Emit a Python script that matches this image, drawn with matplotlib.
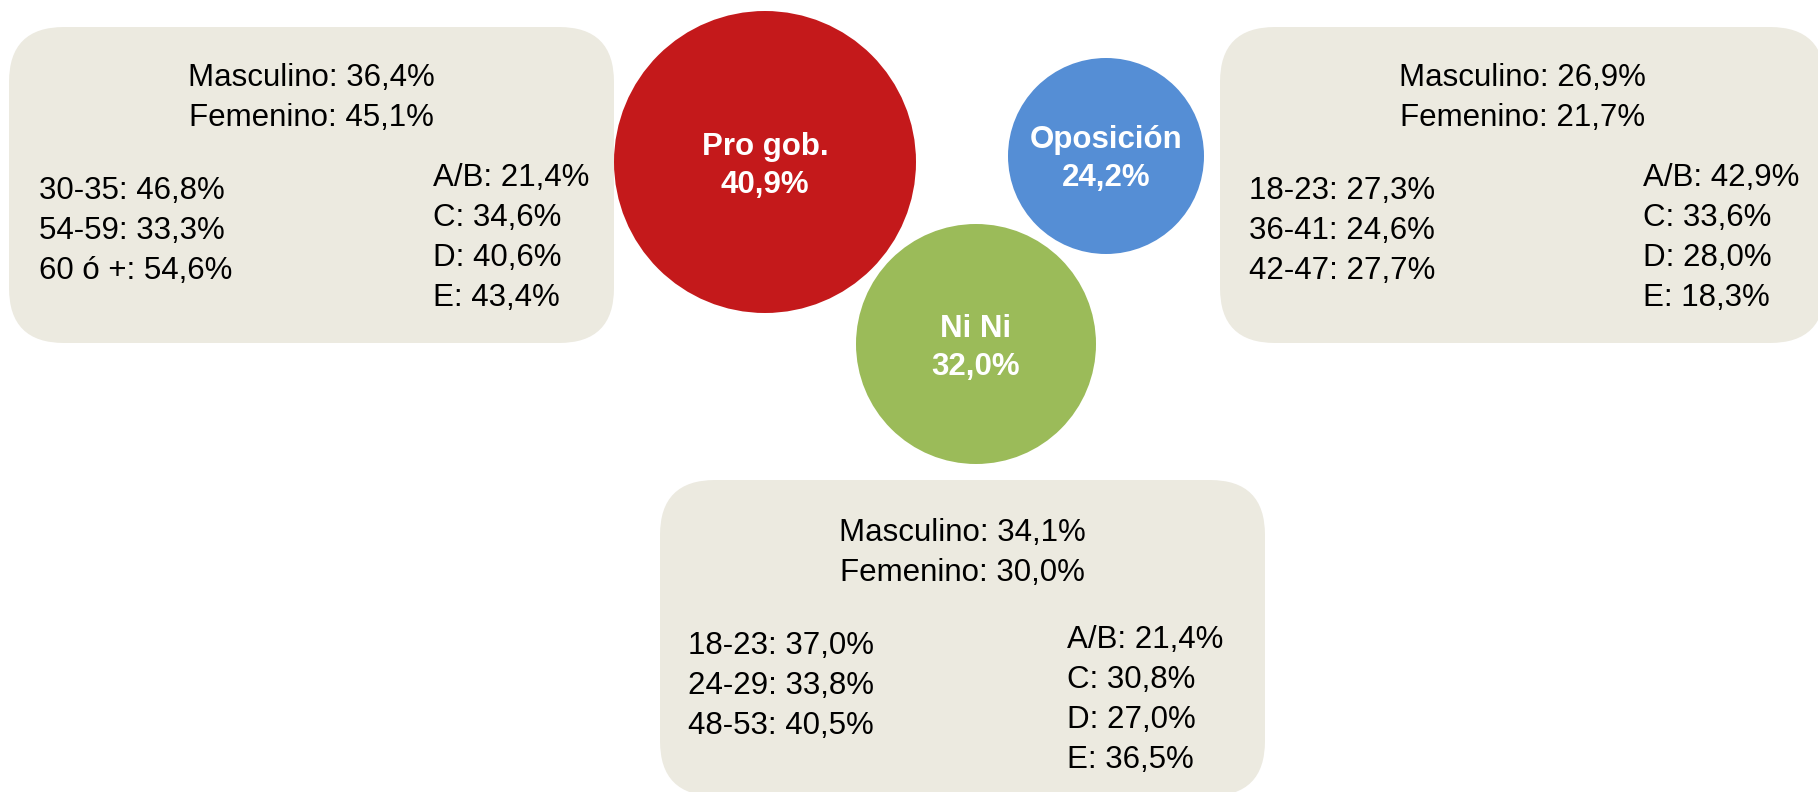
import matplotlib.pyplot as plt
from matplotlib.patches import Circle, FancyBboxPatch

plt.rcParams["font.family"] = ["Liberation Sans", "DejaVu Sans"]

# Data
GROUPS = ["Pro gob.", "Oposición", "Ni Ni"]
SHARES = [40.9, 24.2, 32.0]
MASCULINO = [36.4, 26.9, 34.1]
FEMENINO = [45.1, 21.7, 30.0]
AGE_LABELS = [
    ["30-35", "54-59", "60 ó +"],
    ["18-23", "36-41", "42-47"],
    ["18-23", "24-29", "48-53"],
]
AGE_VALUES = [
    [46.8, 33.3, 54.6],
    [27.3, 24.6, 27.7],
    [37.0, 33.8, 40.5],
]
NSE_LABELS = ["A/B", "C", "D", "E"]
NSE_VALUES = [
    [21.4, 34.6, 40.6, 43.4],
    [42.9, 33.6, 28.0, 18.3],
    [21.4, 30.8, 27.0, 36.5],
]

# Style / layout (pixel units of the 1818x792 canvas)
COLORS = ["#C4191B", "#558ED5", "#9BBB59"]
BOX_COLOR = "#ECEAE0"
W, H = 1818, 792
CIRCLES = [(765, 162, 151), (1106, 156, 98), (976, 344, 120)]
LABEL_BASE = [(155, 193), (148, 186), (337, 375)]
BOXES = [(9, 27), (1220, 27), (660, 480)]
BOX_W, BOX_H = 605, 316
# (gender baseline, age x, age baseline, nse x, nse baseline)
BOX_TEXT = [
    (59, 30, 172, 424, 159),
    (59, 29, 172, 423, 159),
    (61, 28, 174, 407, 168),
]
LINE = 40
FS = 22.5


def pct(v: float) -> str:
    return f"{v:.1f}".replace(".", ",") + "%"


fig = plt.figure(figsize=(W / 100, H / 100), dpi=100)
ax = fig.add_axes([0, 0, 1, 1])
ax.set_xlim(0, W)
ax.set_ylim(H, 0)
ax.set_aspect("equal")
ax.axis("off")

# Info boxes
for i, (bx, by) in enumerate(BOXES):
    ax.add_patch(FancyBboxPatch(
        (bx, by), BOX_W, BOX_H,
        boxstyle="round,pad=0,rounding_size=55",
        facecolor=BOX_COLOR, edgecolor="none",
    ))
    g_base, age_x, age_base, nse_x, nse_base = BOX_TEXT[i]
    cx = bx + BOX_W / 2
    ax.text(cx, by + g_base, f"Masculino: {pct(MASCULINO[i])}",
            ha="center", va="baseline", fontsize=FS)
    ax.text(cx, by + g_base + LINE, f"Femenino: {pct(FEMENINO[i])}",
            ha="center", va="baseline", fontsize=FS)
    for j, (lab, val) in enumerate(zip(AGE_LABELS[i], AGE_VALUES[i])):
        ax.text(bx + age_x, by + age_base + j * LINE, f"{lab}: {pct(val)}",
                ha="left", va="baseline", fontsize=FS)
    for j, (lab, val) in enumerate(zip(NSE_LABELS, NSE_VALUES[i])):
        ax.text(bx + nse_x, by + nse_base + j * LINE, f"{lab}: {pct(val)}",
                ha="left", va="baseline", fontsize=FS)

# Bubbles
for i, (x, y, r) in enumerate(CIRCLES):
    ax.add_patch(Circle((x, y), r, facecolor=COLORS[i], edgecolor="none"))
    b1, b2 = LABEL_BASE[i]
    ax.text(x, b1, GROUPS[i], ha="center", va="baseline",
            fontsize=FS, fontweight="bold", color="white")
    ax.text(x, b2, pct(SHARES[i]), ha="center", va="baseline",
            fontsize=FS, fontweight="bold", color="white")

fig.savefig("out.png", dpi=100, facecolor="white")
